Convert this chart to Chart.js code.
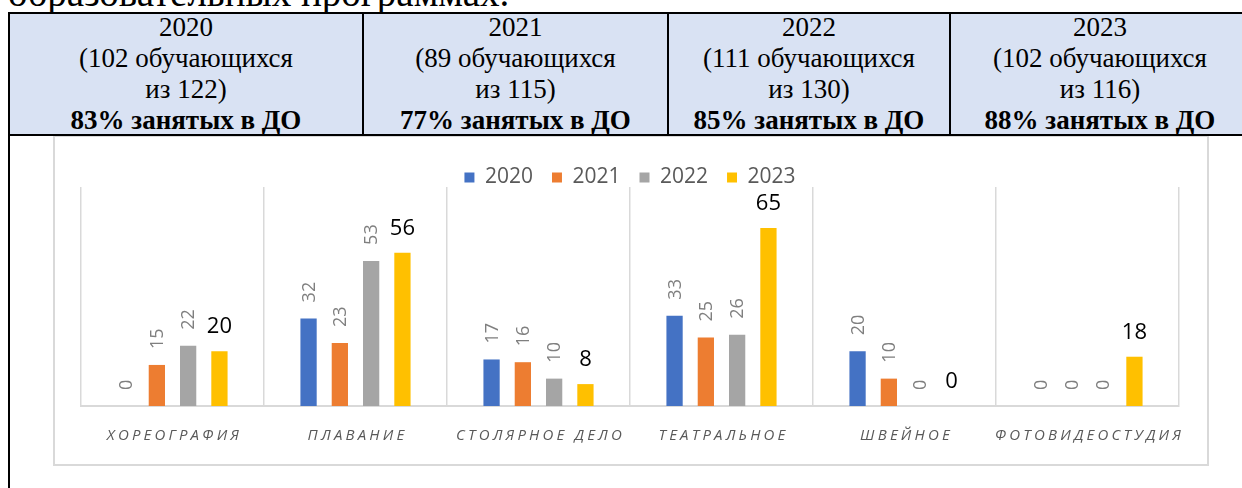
<!DOCTYPE html>
<html lang="ru">
<head>
<meta charset="utf-8">
<script src="https://cdn.jsdelivr.net/npm/chart.js@4.4.0/dist/chart.umd.min.js"></script>
<style>
  body { margin:0; width:1242px; height:488px; overflow:hidden; background:#fff; position:relative; font-family:"Liberation Serif", "Times New Roman", serif; }
  .intro { position:absolute; left:8px; top:-27px; font-size:39px; line-height:39px; white-space:nowrap; color:#000; }
  .head { position:absolute; left:9px; top:12px; width:1250px; height:124px; background:#d9e2f3; }
  .cell { position:absolute; top:12px; height:124px; font-size:27px; line-height:31px; text-align:center; color:#000; }
  .cell b { font-weight:bold; }
  .hline { position:absolute; background:#000; }
  .box { position:absolute; left:53px; top:135px; width:1156px; height:331px; border:2px solid #d9d9d9; box-sizing:border-box; background:#fff; }
</style>
</head>
<body>
<script>
// шапка таблицы
const headYears = ['2020', '2021', '2022', '2023'];
const headPupils = [102, 89, 111, 102];
const headTotal = [122, 115, 130, 116];
const headShare = [83, 77, 85, 88];
const colEdges = [9, 363, 668, 950, 1250];

// диаграмма
const categories = ['ХОРЕОГРАФИЯ', 'ПЛАВАНИЕ', 'СТОЛЯРНОЕ ДЕЛО', 'ТЕАТРАЛЬНОЕ', 'ШВЕЙНОЕ', 'ФОТОВИДЕОСТУДИЯ'];
const seriesNames = ['2020', '2021', '2022', '2023'];
const v2020 = [0, 32, 17, 33, 20, 0];
const v2021 = [15, 23, 16, 25, 10, 0];
const v2022 = [22, 53, 10, 26, 0, 0];
const v2023 = [20, 56, 8, 65, 0, 18];
const seriesColors = ['#4472C4', '#ED7D31', '#A5A5A5', '#FFC000'];

const el = o => {
	const e = document.createElement(o.a);
	if (o.c) e.innerHTML = o.c;
	if (o.d) for (const k in o.d) e.setAttribute(k, o.d[k]);
	(o.b || document.body).appendChild(e);
	return e;
};

el({a:'div', c:'образовательных программах.', d:{class:'intro'}});
el({a:'div', d:{class:'head'}});

headYears.forEach((y, i) => {
	const l = colEdges[i], w = colEdges[i + 1] - l;
	el({a:'div', d:{class:'cell', style:`left:${l}px; width:${w}px;`},
		c:`${y}<br>(${headPupils[i]} обучающихся<br>из ${headTotal[i]})<br><b>${headShare[i]}% занятых в ДО</b>`});
});

const box = el({a:'div', d:{class:'box'}});

// линии таблицы
el({a:'div', d:{class:'hline', style:'left:8px; top:12px; width:1240px; height:2px;'}});
el({a:'div', d:{class:'hline', style:'left:8px; top:134px; width:1240px; height:2px;'}});
el({a:'div', d:{class:'hline', style:'left:8px; top:12px; width:2px; height:480px;'}});
colEdges.slice(1, 4).forEach(x => {
	el({a:'div', d:{class:'hline', style:`left:${x - 1}px; top:13px; width:1.5px; height:122px;`}});
});

const valueLabels = {
	id: 'valueLabels',
	afterDatasetsDraw(chart) {
		const ctx = chart.ctx;
		chart.data.datasets.forEach((ds, i) => {
			chart.getDatasetMeta(i).data.forEach((bar, j) => {
				const v = ds.data[j];
				ctx.save();
				if (i < 3) {
					ctx.translate(bar.x, bar.y - 16);
					ctx.rotate(-Math.PI / 2);
					ctx.font = '18px "Open Sans"';
					ctx.fillStyle = '#7f7f7f';
					ctx.textAlign = 'left';
					ctx.textBaseline = 'middle';
					ctx.fillText(String(v), 0, 1);
				} else {
					ctx.font = '22px "Open Sans"';
					ctx.fillStyle = '#000';
					ctx.textAlign = 'center';
					ctx.textBaseline = 'alphabetic';
					ctx.fillText(String(v), bar.x, bar.y - 18);
				}
				ctx.restore();
			});
		});
	}
};

const categoryLabels = {
	id: 'categoryLabels',
	afterDraw(chart) {
		const ctx = chart.ctx, x = chart.scales.x;
		ctx.save();
		ctx.font = 'italic 15px "Open Sans"';
		ctx.fillStyle = '#595959';
		ctx.letterSpacing = '3.2px';
		ctx.textAlign = 'center';
		ctx.textBaseline = 'middle';
		categories.forEach((c, i) => ctx.fillText(c, x.getPixelForValue(i) + 2, chart.chartArea.bottom + 30));
		ctx.restore();
	}
};

(a => {
	const b = el({a:'canvas', b:a});
	b.width = 1152;
	b.height = 327;

	new Chart(b, {
		type: 'bar',
		data: {
			labels: categories,
			datasets: [v2020, v2021, v2022, v2023].map((d, i) => ({
				label: seriesNames[i],
				data: d,
				backgroundColor: seriesColors[i],
				borderWidth: 0,
				categoryPercentage: 0.684,
				barPercentage: 0.52
			}))
		},
		options: {
			responsive: false,
			animation: false,
			layout: { padding: { left: 26, right: 28, top: 11, bottom: 58 } },
			plugins: {
				legend: {
					position: 'top',
					maxHeight: 39,
					labels: {
						boxWidth: 10,
						boxHeight: 10,
						padding: 19,
						color: '#595959',
						font: { family: 'Open Sans', size: 21 }
					}
				},
				tooltip: { enabled: false }
			},
			scales: {
				x: {
					grid: { color: '#d9d9d9', lineWidth: 1.5, drawTicks: false, offset: true },
					border: { color: '#d9d9d9', width: 2 },
					ticks: { display: false }
				},
				y: { display: false, min: 0, max: 80 }
			}
		},
		plugins: [valueLabels, categoryLabels]
	});
})(box);
</script>
</body>
</html>
